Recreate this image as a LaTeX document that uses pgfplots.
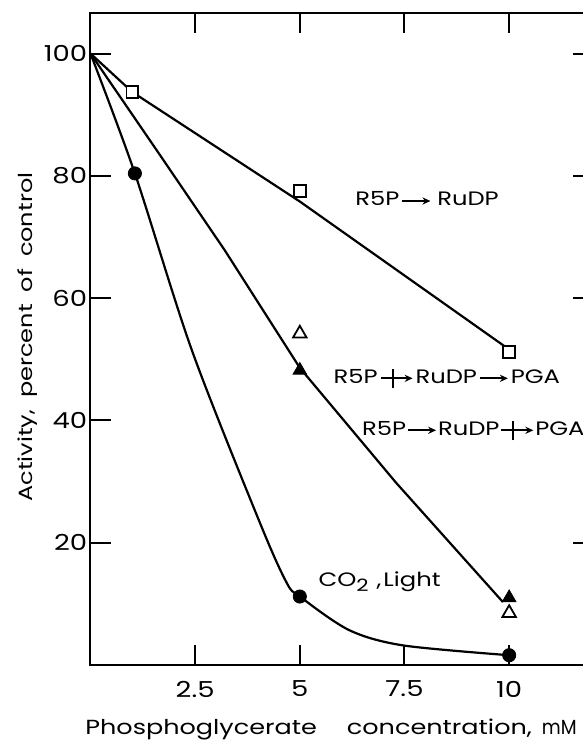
\documentclass[border=0pt]{standalone}
\usepackage{pgfplots}
\pgfplotsset{compat=1.18}
\usepackage{fontspec}
\setmainfont{Poppins}[FakeStretch=1.25]
\usetikzlibrary{arrows.meta}
\newsavebox{\arrA}
\newsavebox{\arrB}
\begin{document}%
\sbox{\arrA}{\tikz[baseline=0pt]{\draw[line width=0.9pt,-{Stealth[length=4pt,width=3.6pt]}] (0,2.4pt)--(14pt,2.4pt);}}%
\sbox{\arrB}{\tikz[baseline=0pt]{\draw[line width=0.9pt,-{Stealth[length=4pt,width=3.6pt]}] (0,2.4pt)--(16pt,2.4pt); \draw[line width=0.9pt] (6pt,-2.6pt)--(6pt,7pt);}}%
\begin{tikzpicture}
\begin{axis}[
  at={(0,0)}, anchor=origin,
  scale only axis, width=251.2pt, height=325.9pt,
  xmin=0, xmax=12, ymin=0, ymax=106.6,
  axis line style={line width=1pt},
  every tick/.style={line width=1pt, black},
  major tick length=10pt,
  tick align=inside,
  xtick={2.5,5,7.5,10}, xticklabels={2.5,5,7.5,10},
  ytick={20,40,60,80,100},
  ytick pos=left,
  /pgf/number format/assume math mode=true,
  tick label style={font=\fontsize{11}{13}\selectfont},
  yticklabel style={inner sep=0pt, xshift=-1.5pt},
  xticklabel style={yshift=-4.5pt},
  xlabel={Phosphoglycerate\hspace{15pt}concentration,\hspace{5pt}\scalebox{0.72}[1]{mM}},
  xlabel style={at={(axis description cs:-0.011,0)}, anchor=base west, yshift=-34.5pt, inner sep=0pt, font=\fontsize{10.2}{13}\selectfont},
  ylabel={Activity,\hspace{6pt}percent\hspace{6pt}of\hspace{6pt}control},
  ylabel style={at={(axis description cs:-0.1244,0.503)}, anchor=center, rotate=0, font=\fontsize{9.6}{12}\selectfont},
  clip=false,
]
% connecting curves
\addplot[black, line width=1.1pt] coordinates {(0,100) (1,93.7) (5,75.8) (10,51.6)};
\addplot[black, line width=1.1pt] coordinates {(0,100) (1.58,84.2) (3.2,67.9) (5,48.6) (7.3,29.8) (9.85,10.3)};
\addplot[black, line width=1.1pt, smooth] coordinates {(0,100) (1.06,80.4) (2.42,51.5) (4.05,23.2) (4.69,13.4) (5,11.2) (6.18,5.7) (7.47,3.2) (10,1.6)};
% marks
\addplot[only marks, mark=square*, mark size=2.9pt, mark options={fill=white, draw=black, line width=0.9pt}] coordinates {(1,93.7) (5,77.5) (10,51.2)};
\addplot[only marks, mark=triangle*, mark size=3.9pt, mark options={fill=white, draw=black, line width=0.9pt}] coordinates {(5,54.2) (10,8.5)};
\addplot[only marks, mark=triangle*, mark size=3.9pt, mark options={fill=black, draw=black}] coordinates {(5,48.2) (10,11.0)};
\addplot[only marks, mark=*, mark size=3.3pt, mark options={fill=black, draw=black}] coordinates {(1.06,80.4) (5,11.2) (10,1.6)};
% right-hand ticks (the one at 40 lies under the label)
\draw[line width=1pt] (axis cs:12,20) -- ++(-10pt,0);
\draw[line width=1pt] (axis cs:12,60) -- ++(-10pt,0);
\draw[line width=1pt] (axis cs:12,80) -- ++(-10pt,0);
\draw[line width=1pt] (axis cs:12,100) -- ++(-10pt,0);
% annotations
\node[anchor=base west, inner sep=0pt, font=\fontsize{9.7}{12}\selectfont] at (axis cs:6.32,75.1) {R5P\hspace{1pt}\usebox{\arrA}\hspace{3pt}RuDP};
\node[anchor=base west, inner sep=0pt, font=\fontsize{9.7}{12}\selectfont] at (axis cs:5.80,46.1) {R5P\hspace{1pt}\usebox{\arrB}\hspace{1pt}RuDP\hspace{1pt}\usebox{\arrA}\hspace{1pt}PGA};
\node[anchor=base west, inner sep=0pt, font=\fontsize{9.7}{12}\selectfont] at (axis cs:6.48,37.6) {R5P\hspace{0.5pt}\usebox{\arrA}\hspace{0.5pt}RuDP\hspace{0.5pt}\usebox{\arrB}\hspace{0.5pt}PGA};
\node[anchor=base west, inner sep=0pt, font=\fontsize{9.7}{12}\selectfont] at (axis cs:5.44,12.8) {CO\raisebox{-0.45ex}{\fontsize{8.5}{9}\selectfont 2}\hspace{4pt},\hspace{1pt}Light};
\end{axis}
\pgfresetboundingbox
\path[use as bounding box] (-45.25pt,-38pt) rectangle (246.25pt,332.5pt);
\end{tikzpicture}%
\end{document}
